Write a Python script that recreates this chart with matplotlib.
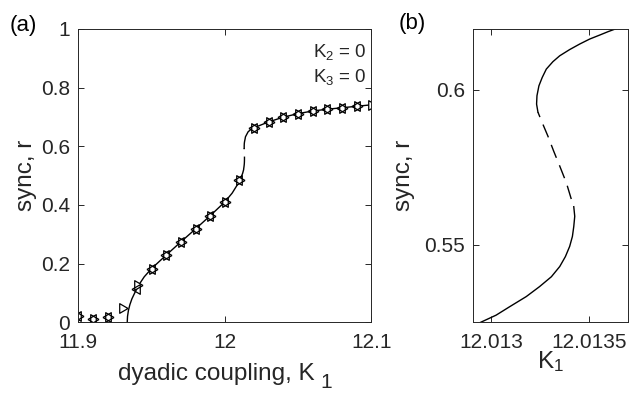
import numpy as np
import matplotlib
matplotlib.use("Agg")
import matplotlib.pyplot as plt

plt.rcParams['font.family'] = ['Liberation Sans', 'DejaVu Sans']
plt.rcParams['mathtext.default'] = 'regular'

# ---- data ----
# stable lower branch (K1, r)
k_low = [11.9334, 11.9336, 11.9342, 11.9352, 11.9366, 11.9385, 11.941, 11.945,
         11.95, 11.96, 11.97, 11.98, 11.99, 12.0, 12.005, 12.009, 12.011,
         12.0122, 12.01285, 12.012938, 12.013024, 12.013093, 12.013179,
         12.013247, 12.013308, 12.013351, 12.01338, 12.013402, 12.013416,
         12.013423, 12.013428, 12.013423]
r_low = [0.0, 0.02, 0.04, 0.06, 0.08, 0.10, 0.125, 0.155,
         0.183, 0.229, 0.274, 0.318, 0.363, 0.41, 0.44, 0.472, 0.492,
         0.508, 0.52, 0.5248, 0.5273, 0.5300, 0.5333,
         0.5365, 0.5397, 0.5430, 0.5462, 0.5495, 0.5527,
         0.5559, 0.5592, 0.5623]
# unstable middle branch
k_mid = [12.013423, 12.013411, 12.013385, 12.013351, 12.01332, 12.01329,
         12.013261, 12.013239]
r_mid = [0.5623, 0.5646, 0.5700, 0.5754, 0.5802, 0.5851,
         0.5894, 0.5928]
# stable upper branch
k_up = [12.013239, 12.013232, 12.013234, 12.013244, 12.013261, 12.013282,
        12.013316, 12.013351, 12.013402, 12.013454, 12.013505, 12.013557,
        12.0136, 12.013639, 12.0139, 12.0141, 12.0159, 12.0175, 12.02,
        12.03, 12.04, 12.05, 12.06, 12.07, 12.08, 12.09, 12.1]
r_up = [0.5928, 0.5954, 0.5981, 0.6013, 0.6040, 0.6067,
        0.6091, 0.6110, 0.6130, 0.6148, 0.6164, 0.6177,
        0.6188, 0.6197, 0.626, 0.632, 0.649, 0.656, 0.663,
        0.683, 0.699, 0.711, 0.72, 0.726, 0.731, 0.736, 0.741]

# simulation markers: forward sweep (>) and backward sweep (<)
k_sim = [11.90, 11.91, 11.92, 11.93, 11.94, 11.95, 11.96, 11.97, 11.98, 11.99, 12.00,
         12.01, 12.02, 12.03, 12.04, 12.05, 12.06, 12.07, 12.08, 12.09, 12.10]
r_fwd = [0.020, 0.010, 0.019, 0.050, 0.128, 0.181, 0.229, 0.275, 0.318, 0.362, 0.411,
         0.485, 0.662, 0.683, 0.699, 0.711, 0.720, 0.726, 0.731, 0.736, 0.741]
r_bwd = [0.020, 0.010, 0.019, np.nan, 0.115, 0.181, 0.229, 0.275, 0.318, 0.362, 0.411,
         0.485, 0.662, 0.683, 0.699, 0.711, 0.720, 0.726, 0.731, 0.736, np.nan]

axcol = '#262626'
tick_fs = 15
lab_fs = 17.5
dash = (10, (10, 5.8))

# triangles centred on their centroid, so that > and < together make a star
tri_r = [(1, 0), (-0.5, -0.866), (-0.5, 0.866), (1, 0)]
tri_l = [(-1, 0), (0.5, -0.866), (0.5, 0.866), (-1, 0)]


def style(ax):
    ax.tick_params(direction='in', length=4, width=0.7, top=True, right=True,
                   colors=axcol, labelsize=tick_fs, pad=6)
    ax.tick_params(axis='x', pad=8)
    for s in ax.spines.values():
        s.set_color(axcol)
        s.set_linewidth(0.7)


fig = plt.figure(figsize=(6.41, 3.93), dpi=100)
ax1 = fig.add_axes([78.3 / 641, (393 - 322.3) / 393, 293 / 641, 293.5 / 393])
ax2 = fig.add_axes([473.3 / 641, (393 - 322.3) / 393, 154.4 / 641, 293.5 / 393])

# (a)
ax1.plot(k_low, r_low, 'k-', lw=1.0)
ax1.plot(k_mid, r_mid, color='k', lw=1.0, linestyle=dash)
ax1.plot(k_up, r_up, 'k-', lw=1.0)
ax1.plot(k_sim, r_fwd, ls='none', marker=tri_r, ms=8, mfc='white', mec='k', mew=0.9)
ax1.plot(k_sim, r_bwd, ls='none', marker=tri_l, ms=8, mfc='none', mec='k', mew=0.9)
ax1.set_xlim(11.9, 12.1)
ax1.set_ylim(0, 1)
ax1.set_xticks([11.9, 12.0, 12.1])
ax1.set_xticklabels(['11.9', '12', '12.1'])
ax1.set_yticks([0, 0.2, 0.4, 0.6, 0.8, 1.0])
ax1.set_yticklabels(['0', '0.2', '0.4', '0.6', '0.8', '1'])
style(ax1)
ax1.set_xlabel('dyadic coupling, K', fontsize=lab_fs, color=axcol)
ax1.xaxis.set_label_coords(0.47, -0.14)
ax1.text(0.847, -0.172, '1', transform=ax1.transAxes, ha='center', va='top',
         fontsize=15, color=axcol)
ax1.set_ylabel('sync, r', fontsize=lab_fs, color=axcol)
ax1.yaxis.set_label_coords(-0.141, 0.5)
ax1.text(0.985, 0.955, 'K$_2$ = 0', transform=ax1.transAxes, ha='right', va='top',
         fontsize=13.5, color=axcol)
ax1.text(0.985, 0.87, 'K$_3$ = 0', transform=ax1.transAxes, ha='right', va='top',
         fontsize=13.5, color=axcol)

# (b)
ax2.plot(k_low, r_low, 'k-', lw=1.0)
ax2.plot(k_mid, r_mid, color='k', lw=1.0, linestyle=dash)
ax2.plot(k_up, r_up, 'k-', lw=1.0)
ax2.set_xlim(12.012907, 12.0137)
ax2.set_ylim(0.525, 0.6197)
ax2.set_xticks([12.013, 12.0135])
ax2.set_xticklabels(['12.013', '12.0135'])
ax2.set_yticks([0.55, 0.6])
ax2.set_yticklabels(['0.55', '0.6'])
style(ax2)
ax2.set_xlabel('K$_1$', fontsize=lab_fs, color=axcol)
ax2.xaxis.set_label_coords(0.5, -0.09)
ax2.set_ylabel('sync, r', fontsize=lab_fs, color=axcol)
ax2.yaxis.set_label_coords(-0.378, 0.5)

fig.text(10 / 641, 1 - 26 / 393, '(a)', fontsize=16, va='center', ha='left', color='k')
fig.text(399 / 641, 1 - 24 / 393, '(b)', fontsize=16, va='center', ha='left', color='k')

fig.savefig('out.png', dpi=100)
